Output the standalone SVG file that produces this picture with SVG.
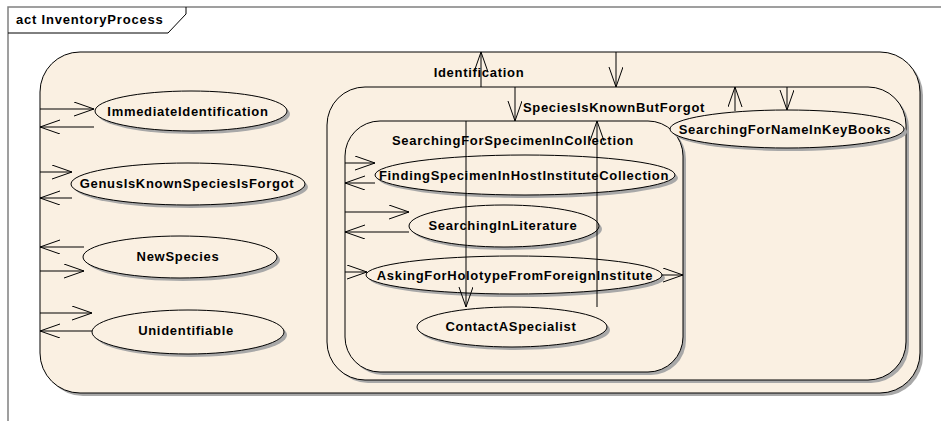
<svg xmlns="http://www.w3.org/2000/svg" width="941" height="421" viewBox="0 0 941 421">
<defs>
<style>
.t{font-family:"Liberation Sans",Arial,sans-serif;font-weight:bold;font-size:13px;letter-spacing:0.7px;fill:#000;text-anchor:middle}
.st{fill:#FAF0E2;stroke:#000;stroke-width:1}
.sh{fill:#A8A8A8}
.c{fill:none;stroke:#000;stroke-width:1}
</style>
<marker id="ah" markerWidth="22" markerHeight="16" refX="20" refY="7" orient="auto" markerUnits="userSpaceOnUse">
<path d="M0,0 L20,7 L0,14" fill="none" stroke="#000" stroke-width="1"/>
</marker>
</defs>
<rect x="0" y="0" width="941" height="421" fill="#fff"/>
<g id="frame">
<path d="M8,421 L8,7 L941,7" fill="none" stroke="#808080" stroke-width="1.5"/>
<path d="M8,33 L168,33 L186,14 L186,7" fill="none" stroke="#000" stroke-width="1"/>
<text x="16" y="24" style="font-family:'Liberation Sans',Arial,sans-serif;font-weight:bold;font-size:13px;letter-spacing:0.8px">act InventoryProcess</text>
</g>
<g id="Identification">
<rect class="sh" x="43" y="55" width="880" height="341" rx="40"/>
<rect class="st" x="40" y="52" width="880" height="341" rx="40"/>
<text class="t" x="479" y="77">Identification</text>
</g>
<g id="SpeciesIsKnownButForgot">
<rect class="sh" x="330" y="90" width="579" height="293" rx="38"/>
<rect class="st" x="327" y="87" width="579" height="293" rx="38"/>
<text class="t" x="614" y="112">SpeciesIsKnownButForgot</text>
</g>
<g id="SearchingForSpecimenInCollection">
<rect class="sh" x="348" y="124" width="338" height="251" rx="35"/>
<rect class="st" x="345" y="121" width="338" height="251" rx="35"/>
<text class="t" x="513" y="145">SearchingForSpecimenInCollection</text>
</g>
<g id="ImmediateIdentification">
<ellipse class="sh" cx="194" cy="114" rx="96" ry="20"/>
<ellipse class="st" cx="191" cy="111" rx="96" ry="20"/>
<text class="t" x="188" y="116">ImmediateIdentification</text>
</g>
<g id="GenusIsKnownSpeciesIsForgot">
<ellipse class="sh" cx="191" cy="187" rx="117" ry="21"/>
<ellipse class="st" cx="188" cy="184" rx="117" ry="21"/>
<text class="t" x="187" y="188">GenusIsKnownSpeciesIsForgot</text>
</g>
<g id="NewSpecies">
<ellipse class="sh" cx="183" cy="260" rx="97" ry="21"/>
<ellipse class="st" cx="180" cy="257" rx="97" ry="21"/>
<text class="t" x="178" y="261">NewSpecies</text>
</g>
<g id="Unidentifiable">
<ellipse class="sh" cx="191" cy="335" rx="96" ry="22"/>
<ellipse class="st" cx="188" cy="332" rx="96" ry="22"/>
<text class="t" x="186" y="335">Unidentifiable</text>
</g>
<g id="SearchingForNameInKeyBooks">
<ellipse class="sh" cx="790" cy="132" rx="117" ry="19"/>
<ellipse class="st" cx="787" cy="129" rx="117" ry="19"/>
<text class="t" x="785" y="134">SearchingForNameInKeyBooks</text>
</g>
<g id="FindingSpecimenInHostInstituteCollection">
<ellipse class="sh" cx="528" cy="178" rx="150" ry="20"/>
<ellipse class="st" cx="525" cy="175" rx="150" ry="20"/>
<text class="t" x="524" y="180">FindingSpecimenInHostInstituteCollection</text>
</g>
<g id="SearchingInLiterature">
<ellipse class="sh" cx="507" cy="229" rx="95" ry="21"/>
<ellipse class="st" cx="504" cy="226" rx="95" ry="21"/>
<text class="t" x="503" y="230">SearchingInLiterature</text>
</g>
<g id="AskingForHolotypeFromForeignInstitute">
<ellipse class="sh" cx="517" cy="278" rx="148" ry="19"/>
<ellipse class="st" cx="514" cy="275" rx="148" ry="19"/>
<text class="t" x="515" y="280">AskingForHolotypeFromForeignInstitute</text>
</g>
<g id="ContactASpecialist">
<ellipse class="sh" cx="515" cy="330" rx="95" ry="20"/>
<ellipse class="st" cx="512" cy="327" rx="95" ry="20"/>
<text class="t" x="511" y="331">ContactASpecialist</text>
</g>
<g id="connectors" class="c">
<line x1="40" y1="109" x2="94" y2="109" marker-end="url(#ah)"/>
<line x1="94" y1="127" x2="40" y2="127" marker-end="url(#ah)"/>
<line x1="40" y1="172" x2="72" y2="172" marker-end="url(#ah)"/>
<line x1="72" y1="198" x2="40" y2="198" marker-end="url(#ah)"/>
<line x1="84" y1="247" x2="40" y2="247" marker-end="url(#ah)"/>
<line x1="40" y1="271" x2="84" y2="271" marker-end="url(#ah)"/>
<line x1="40" y1="313" x2="92" y2="313" marker-end="url(#ah)"/>
<line x1="92" y1="331" x2="40" y2="331" marker-end="url(#ah)"/>
<line x1="345" y1="163" x2="375" y2="163" marker-end="url(#ah)"/>
<line x1="375" y1="183" x2="345" y2="183" marker-end="url(#ah)"/>
<line x1="345" y1="212" x2="409" y2="212" marker-end="url(#ah)"/>
<line x1="409" y1="232" x2="345" y2="232" marker-end="url(#ah)"/>
<line x1="345" y1="272" x2="367" y2="272" marker-end="url(#ah)"/>
<line x1="662" y1="275" x2="683" y2="275" marker-end="url(#ah)"/>
<line x1="466" y1="121" x2="466" y2="307" marker-end="url(#ah)"/>
<line x1="597" y1="307" x2="597" y2="121" marker-end="url(#ah)"/>
<line x1="481" y1="87" x2="481" y2="52" marker-end="url(#ah)"/>
<line x1="515" y1="87" x2="515" y2="121" marker-end="url(#ah)"/>
<line x1="616" y1="52" x2="616" y2="87" marker-end="url(#ah)"/>
<line x1="735" y1="111" x2="735" y2="87" marker-end="url(#ah)"/>
<line x1="787" y1="87" x2="787" y2="110" marker-end="url(#ah)"/>
</g>
</svg>
